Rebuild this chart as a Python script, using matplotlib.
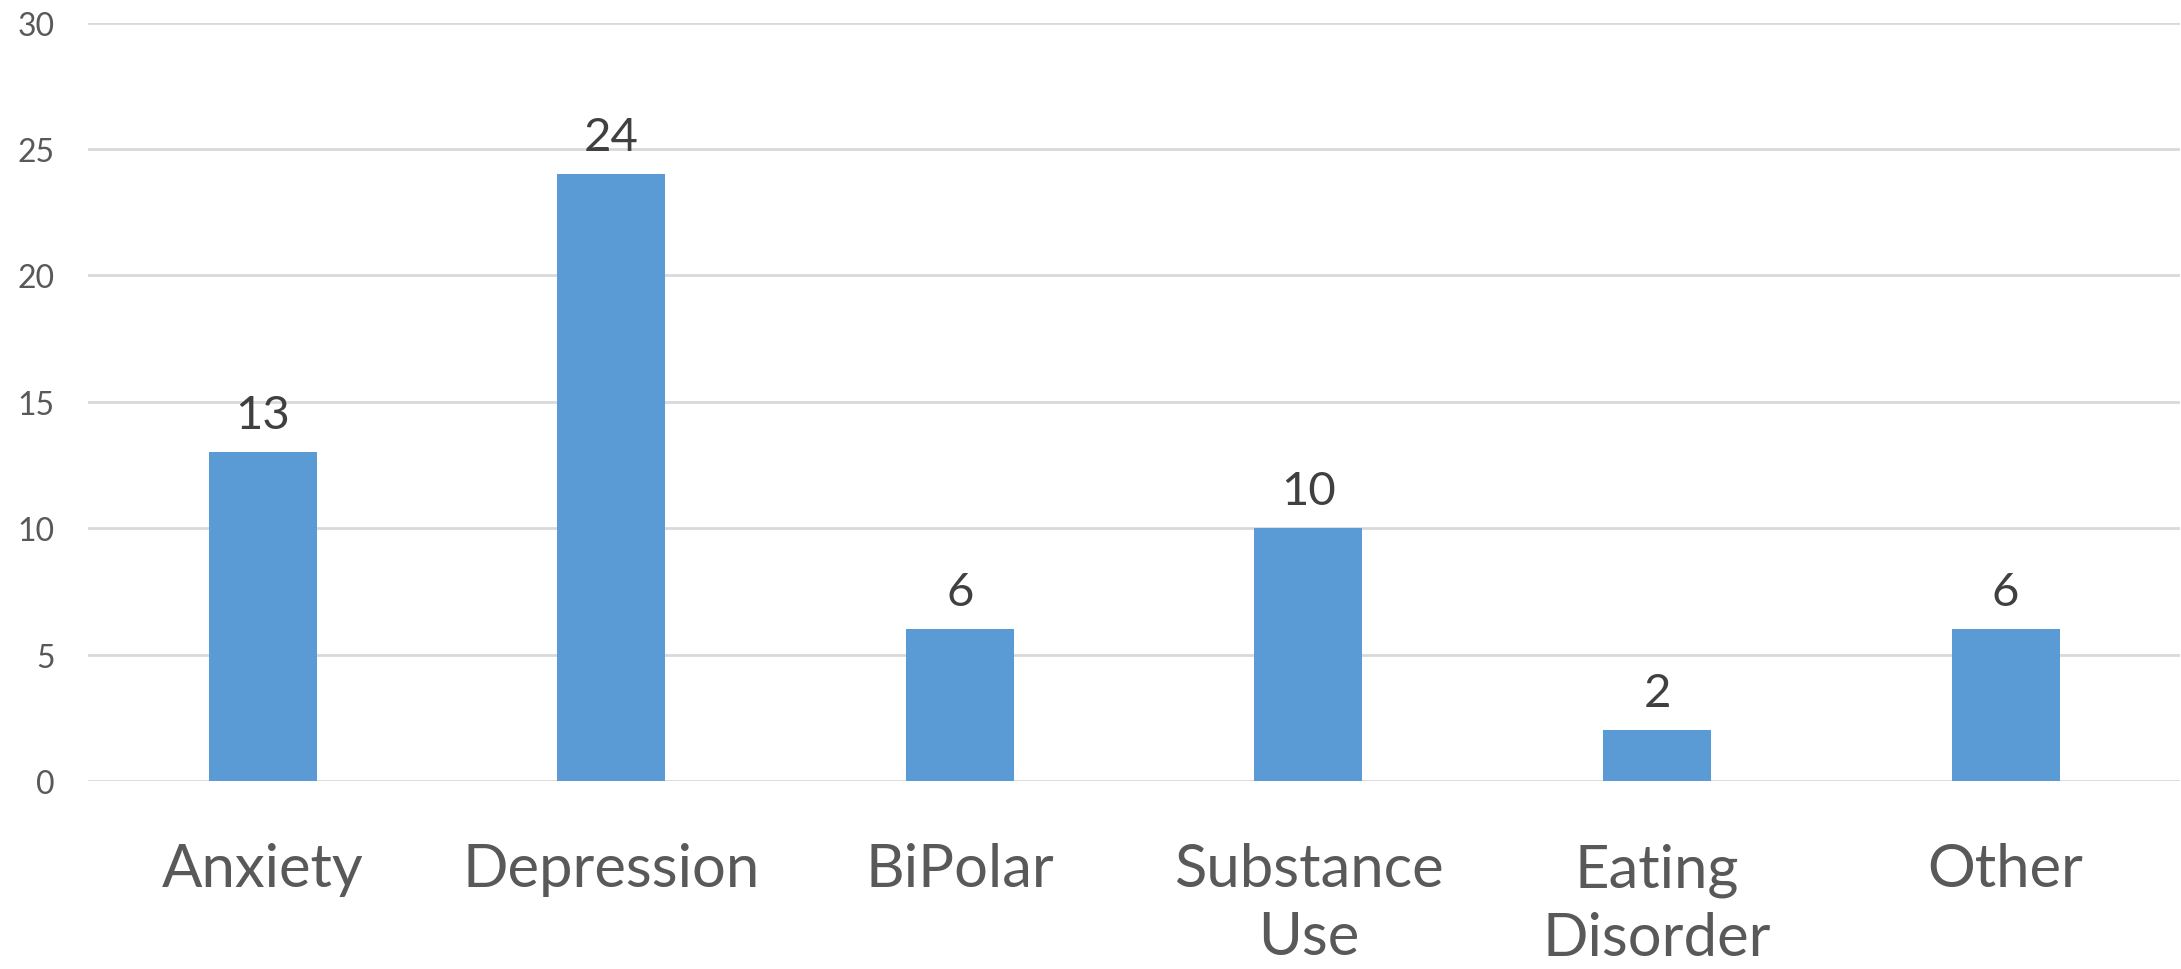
import matplotlib
matplotlib.use("Agg")
import matplotlib.pyplot as plt

categories = ["Anxiety", "Depression", "BiPolar", "Substance\nUse", "Eating\nDisorder", "Other"]
counts = [13, 24, 6, 10, 2, 6]
y_ticks = [0, 5, 10, 15, 20, 25, 30]

plt.rcParams["font.family"] = ["Lato", "DejaVu Sans"]

fig = plt.figure(figsize=(21.81, 9.70), dpi=100)
ax = fig.add_axes([0.0405, 0.1938, 0.9590, 0.7819])

x = list(range(len(categories)))
bars = ax.bar(x, counts, width=0.31, color="#5B9BD5", zorder=3)
ax.bar_label(bars, padding=12, fontsize=34, color="#404040")

ax.set_xlim(-0.5, len(categories) - 0.5)
ax.set_ylim(0, 30)
ax.set_yticks(y_ticks)
ax.set_xticks(x)
ax.set_xticklabels(categories, fontsize=43, color="#595959", linespacing=1.32)
ax.tick_params(axis="y", labelsize=23, labelcolor="#595959", length=0, pad=24)
ax.tick_params(axis="x", length=0, pad=44)

ax.grid(axis="y", color="#D9D9D9", linewidth=2, zorder=0)
for side in ["top", "right", "left", "bottom"]:
    ax.spines[side].set_visible(False)

fig.savefig("out.png", dpi=100)
